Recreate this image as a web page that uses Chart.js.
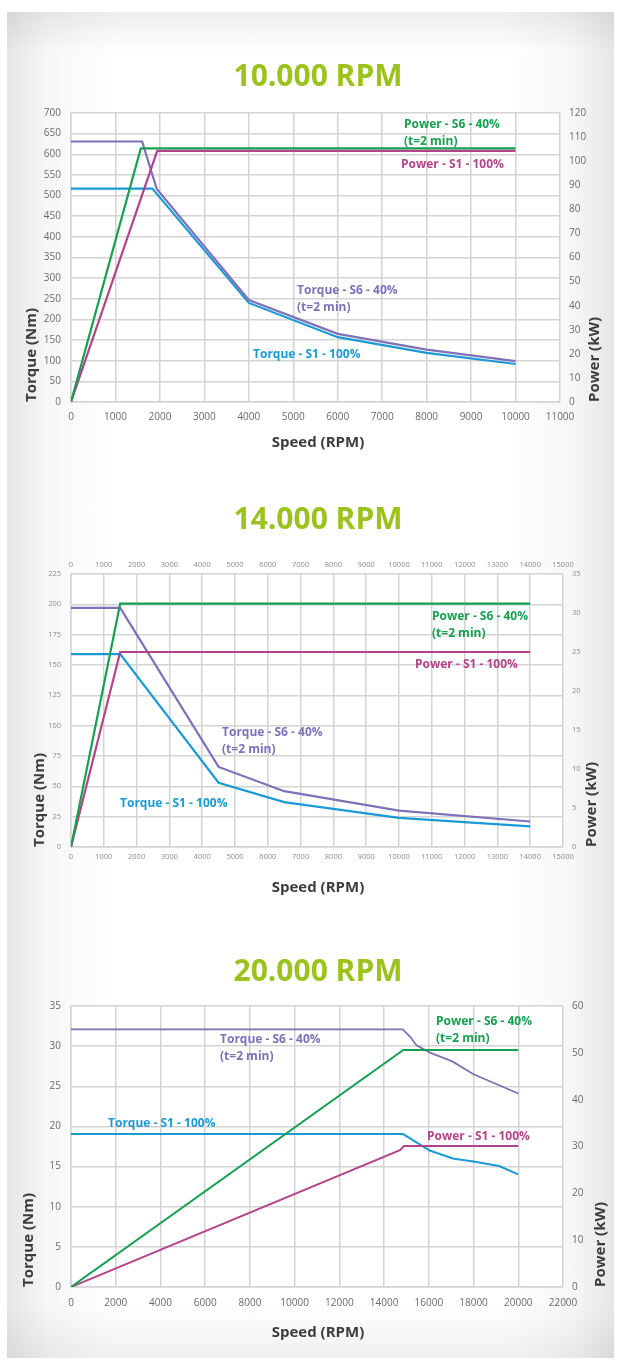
<!DOCTYPE html>
<html>
<head>
<meta charset="utf-8">
<title>Torque / Power curves</title>
<script src="https://cdn.jsdelivr.net/npm/chart.js@4.4.1/dist/chart.umd.min.js"></script>
<style>
    html, body { margin: 0; padding: 0; background: #fff; }
    body { width: 621px; height: 1364px; position: relative; overflow: hidden; font-family: 'Open Sans', sans-serif; }
    #panel {
        position: absolute; left: 7px; top: 12px; width: 607px; height: 1346px;
        background:
            linear-gradient(to bottom, rgba(0,0,0,0.07), rgba(0,0,0,0) 3%, rgba(0,0,0,0) 96%, rgba(0,0,0,0.06)),
            linear-gradient(to right, #e6e6e6 0%, #f7f7f7 7%, #fff 18%, #fff 82%, #f7f7f7 93%, #e6e6e6 100%);
    }
    .box { position: absolute; left: 0; width: 621px; }
</style>
</head>
<body>
<div id="panel"></div>
<div class="box" style="top:0px;height:460px"><canvas id="chart10"></canvas></div>
<div class="box" style="top:460px;height:450px"><canvas id="chart14"></canvas></div>
<div class="box" style="top:910px;height:454px"><canvas id="chart20"></canvas></div>

<script>
// ---- 10.000 RPM ----
const ticks10Speed = [0, 1000, 2000, 3000, 4000, 5000, 6000, 7000, 8000, 9000, 10000, 11000];
const ticks10Torque = [0, 50, 100, 150, 200, 250, 300, 350, 400, 450, 500, 550, 600, 650, 700];
const ticks10Power = [0, 10, 20, 30, 40, 50, 60, 70, 80, 90, 100, 110, 120];
const speed10TqS6 = [0, 1600, 1930, 4000, 6000, 8000, 10000];
const torque10S6 = [631, 631, 516, 247, 165, 127, 99];
const speed10TqS1 = [0, 1830, 4000, 6000, 8000, 10000];
const torque10S1 = [517, 517, 240, 157, 119, 92];
const speed10PwS6 = [0, 1570, 10000];
const power10S6 = [0, 105.3, 105.3];
const speed10PwS1 = [0, 1940, 10000];
const power10S1 = [0, 104.3, 104.3];

// ---- 14.000 RPM ----
const ticks14Speed = [0, 1000, 2000, 3000, 4000, 5000, 6000, 7000, 8000, 9000, 10000, 11000, 12000, 13000, 14000, 15000];
const ticks14Torque = [0, 25, 50, 75, 100, 125, 150, 175, 200, 225];
const ticks14Power = [0, 5, 10, 15, 20, 25, 30, 35];
const speed14Tq = [0, 1500, 4500, 6500, 10000, 14000];
const torque14S6 = [197, 197, 66, 46, 30, 21];
const torque14S1 = [159, 159, 53, 37, 24, 17];
const speed14Pw = [0, 1500, 14000];
const power14S6 = [0, 31.2, 31.2];
const power14S1 = [0, 25, 25];

// ---- 20.000 RPM ----
const ticks20Speed = [0, 2000, 4000, 6000, 8000, 10000, 12000, 14000, 16000, 18000, 20000, 22000];
const ticks20Torque = [0, 5, 10, 15, 20, 25, 30, 35];
const ticks20Power = [0, 10, 20, 30, 40, 50, 60];
const speed20TqS6 = [0, 14830, 15160, 15450, 16050, 17050, 18000, 20000];
const torque20S6 = [32.1, 32.1, 31.2, 30.1, 29.2, 28.1, 26.5, 24.1];
const speed20TqS1 = [0, 14850, 16040, 17070, 18070, 19140, 20000];
const torque20S1 = [19.05, 19.05, 17.0, 16.0, 15.6, 15.07, 14.03];
const speed20PwS6 = [0, 14860, 20000];
const power20S6 = [0, 50.6, 50.6];
const speed20PwS1 = [0, 14710, 14890, 20000];
const power20S1 = [0, 29.2, 30.1, 30.1];

const GREEN = '#17a052';
const PINK = '#b3448c';
const PURPLE = '#7f71b8';
const BLUE = '#1b9ad6';
const TITLE_GREEN = '#9cc31d';
const GRID = '#d3d3d3';
const FONT = "'Open Sans', sans-serif";

function points(xs, ys) {
    return xs.map((x, i) => ({ x: x, y: ys[i] }));
}

function fixedTicks(values) {
    return function(scale) {
        scale.ticks = values.map(v => ({ value: v }));
    };
}

// plain numbers, no thousands separator
const plain = v => String(v);

function line(label, xs, ys, color, axis, width) {
    return {
        label: label,
        data: points(xs, ys),
        borderColor: color,
        backgroundColor: color,
        borderWidth: width || 2.2,
        pointRadius: 0,
        tension: 0,
        fill: false,
        yAxisID: axis
    };
}

// draws white plot background, titles and the curve labels
function textLayer(spec) {
    return {
        id: 'textLayer',
        beforeDraw(chart) {
            const a = chart.chartArea;
            const ctx = chart.ctx;
            ctx.save();
            ctx.fillStyle = '#fff';
            ctx.fillRect(a.left, a.top, a.right - a.left, a.bottom - a.top);
            ctx.restore();
        },
        afterDraw(chart) {
            const ctx = chart.ctx;
            const a = chart.chartArea;
            const top = spec.boxTop;
            ctx.save();
            ctx.textBaseline = 'middle';
            ctx.textAlign = 'center';
            ctx.fillStyle = TITLE_GREEN;
            ctx.font = 'bold 30px ' + FONT;
            ctx.fillText(spec.title, 318, spec.titleY - top);

            ctx.fillStyle = '#3c3c3c';
            ctx.font = 'bold 15px ' + FONT;
            ctx.fillText('Speed (RPM)', 318, spec.xTitleY - top);

            ctx.textAlign = 'left';
            [[spec.leftTitleX, 'Torque (Nm)'], [spec.rightTitleX, 'Power (kW)']].forEach(function(t) {
                ctx.save();
                ctx.translate(t[0], a.bottom);
                ctx.rotate(-Math.PI / 2);
                ctx.fillText(t[1], 0, 0);
                ctx.restore();
            });

            ctx.font = 'bold 12px ' + FONT;
            spec.notes.forEach(function(n) {
                ctx.fillStyle = n.color;
                ctx.fillText(n.text, chart.scales.x.getPixelForValue(n.x), chart.scales.y.getPixelForValue(n.y));
            });
            ctx.restore();
        }
    };
}

function makeChart(id, spec) {
    const tickFont = { family: FONT, size: spec.tickSize };
    const xAxisH = spec.boxTop + spec.boxHeight - spec.plot.bottom;
    const topAxisH = spec.topTicks ? 20 : 0;
    const scales = {
        x: {
            type: 'linear',
            min: spec.xTicks[0],
            max: spec.xTicks[spec.xTicks.length - 1],
            afterBuildTicks: fixedTicks(spec.xTicks),
            afterFit: s => { s.height = xAxisH; },
            grid: { color: GRID, lineWidth: 1.5, drawTicks: false },
            border: { color: GRID, width: 1.5 },
            ticks: { font: tickFont, color: spec.tickColor, padding: spec.xPad, maxRotation: 0, autoSkip: false, callback: plain }
        },
        y: {
            type: 'linear',
            position: 'left',
            min: 0,
            max: spec.yTicks[spec.yTicks.length - 1],
            afterBuildTicks: fixedTicks(spec.yTicks),
            afterFit: s => { s.width = spec.plot.left; },
            grid: { color: GRID, lineWidth: 1.5, drawTicks: false },
            border: { color: GRID, width: 1.5 },
            ticks: { font: tickFont, color: spec.tickColor, padding: 10, autoSkip: false, callback: plain }
        },
        y1: {
            type: 'linear',
            position: 'right',
            min: 0,
            max: spec.y1Ticks[spec.y1Ticks.length - 1],
            afterBuildTicks: fixedTicks(spec.y1Ticks),
            afterFit: s => { s.width = 621 - spec.plot.right; },
            grid: { display: false, drawTicks: false },
            border: { display: false },
            ticks: { font: tickFont, color: spec.tickColor, padding: 9, autoSkip: false, callback: plain }
        }
    };
    if (spec.topTicks) {
        scales.xTop = {
            type: 'linear',
            position: 'top',
            min: spec.xTicks[0],
            max: spec.xTicks[spec.xTicks.length - 1],
            afterBuildTicks: fixedTicks(spec.xTicks),
            afterFit: s => { s.height = topAxisH; },
            grid: { display: false, drawTicks: false },
            border: { display: false },
            ticks: { font: tickFont, color: spec.tickColor, padding: spec.xPad, maxRotation: 0, autoSkip: false, callback: plain }
        };
    }

    return new Chart(document.getElementById(id).getContext('2d'), {
        type: 'line',
        data: { datasets: spec.datasets },
        options: {
            responsive: true,
            maintainAspectRatio: false,
            animation: false,
            layout: { padding: { top: spec.plot.top - spec.boxTop - topAxisH, left: 0, right: 0, bottom: 0 } },
            plugins: { legend: { display: false }, tooltip: { enabled: false } },
            scales: scales
        },
        plugins: [textLayer(spec)]
    });
}

makeChart('chart10', {
    title: '10.000 RPM',
    boxTop: 0, boxHeight: 460,
    plot: { left: 71, right: 560, top: 113, bottom: 402 },
    titleY: 77, xTitleY: 443, leftTitleX: 32, rightTitleX: 595,
    tickSize: 10, tickColor: '#6a6a6a', xPad: 9,
    xTicks: ticks10Speed, yTicks: ticks10Torque, y1Ticks: ticks10Power,
    datasets: [
        line('Power - S6 - 40%', speed10PwS6, power10S6, GREEN, 'y1'),
        line('Power - S1 - 100%', speed10PwS1, power10S1, PINK, 'y1'),
        line('Torque - S6 - 40%', speed10TqS6, torque10S6, PURPLE, 'y'),
        line('Torque - S1 - 100%', speed10TqS1, torque10S1, BLUE, 'y')
    ],
    notes: [
        { text: 'Power - S6 - 40%', x: 7490, y: 673, color: GREEN },
        { text: '(t=2 min)', x: 7490, y: 630, color: GREEN },
        { text: 'Power - S1 - 100%', x: 7424, y: 574, color: PINK },
        { text: 'Torque - S6 - 40%', x: 5084, y: 269, color: PURPLE },
        { text: '(t=2 min)', x: 5084, y: 228, color: PURPLE },
        { text: 'Torque - S1 - 100%', x: 4094, y: 114, color: BLUE }
    ]
});

makeChart('chart14', {
    title: '14.000 RPM',
    boxTop: 460, boxHeight: 450,
    plot: { left: 71, right: 563, top: 574, bottom: 847 },
    titleY: 520, xTitleY: 888, leftTitleX: 40, rightTitleX: 592,
    tickSize: 7.5, tickColor: '#8c8c8c', xPad: 5, topTicks: true,
    xTicks: ticks14Speed, yTicks: ticks14Torque, y1Ticks: ticks14Power,
    datasets: [
        line('Power - S6 - 40%', speed14Pw, power14S6, GREEN, 'y1'),
        line('Power - S1 - 100%', speed14Pw, power14S1, PINK, 'y1'),
        line('Torque - S6 - 40%', speed14Tq, torque14S6, PURPLE, 'y'),
        line('Torque - S1 - 100%', speed14Tq, torque14S1, BLUE, 'y')
    ],
    notes: [
        { text: 'Power - S6 - 40%', x: 11006, y: 189.6, color: GREEN },
        { text: '(t=2 min)', x: 11006, y: 175.5, color: GREEN },
        { text: 'Power - S1 - 100%', x: 10488, y: 150, color: PINK },
        { text: 'Torque - S6 - 40%', x: 4604, y: 94, color: PURPLE },
        { text: '(t=2 min)', x: 4604, y: 80, color: PURPLE },
        { text: 'Torque - S1 - 100%', x: 1494, y: 36, color: BLUE }
    ]
});

makeChart('chart20', {
    title: '20.000 RPM',
    boxTop: 910, boxHeight: 454,
    plot: { left: 71, right: 563, top: 1006, bottom: 1287 },
    titleY: 972, xTitleY: 1333, leftTitleX: 29, rightTitleX: 601,
    tickSize: 10, tickColor: '#6a6a6a', xPad: 10,
    xTicks: ticks20Speed, yTicks: ticks20Torque, y1Ticks: ticks20Power,
    datasets: [
        line('Power - S6 - 40%', speed20PwS6, power20S6, GREEN, 'y1', 2),
        line('Power - S1 - 100%', speed20PwS1, power20S1, PINK, 'y1', 2),
        line('Torque - S6 - 40%', speed20TqS6, torque20S6, PURPLE, 'y', 1.8),
        line('Torque - S1 - 100%', speed20TqS1, torque20S1, BLUE, 'y', 2)
    ],
    notes: [
        { text: 'Torque - S6 - 40%', x: 6663, y: 30.76, color: PURPLE },
        { text: '(t=2 min)', x: 6663, y: 28.64, color: PURPLE },
        { text: 'Power - S6 - 40%', x: 16323, y: 33.1, color: GREEN },
        { text: '(t=2 min)', x: 16323, y: 31.0, color: GREEN },
        { text: 'Torque - S1 - 100%', x: 1655, y: 20.3, color: BLUE },
        { text: 'Power - S1 - 100%', x: 15920, y: 18.7, color: PINK }
    ]
});
</script>
</body>
</html>
